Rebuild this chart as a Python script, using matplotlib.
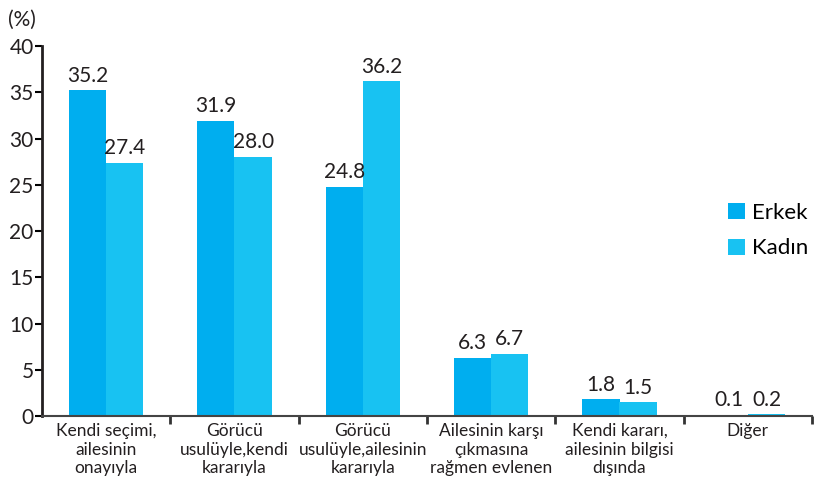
import matplotlib.pyplot as plt
import numpy as np

plt.rcParams['font.family'] = ['Lato', 'DejaVu Sans']

categories = ["Kendi seçimi,\nailesinin\nonayıyla",
              "Görücü\nusulüyle,kendi\nkararıyla",
              "Görücü\nusulüyle,ailesinin\nkararıyla",
              "Ailesinin karşı\nçıkmasına\nrağmen evlenen",
              "Kendi kararı,\nailesinin bilgisi\ndışında",
              "Diğer"]
erkek = [35.2, 31.9, 24.8, 6.3, 1.8, 0.1]
kadin = [27.4, 28.0, 36.2, 6.7, 1.5, 0.2]
yticks = [0, 5, 10, 15, 20, 25, 30, 35, 40]

c_erkek = '#00AEEF'
c_kadin = '#18C2F2'
txt = '#231f20'

fig = plt.figure(figsize=(8.14, 4.78), dpi=100)
ax = fig.add_axes([42/814, 1-416/478, (812-42)/814, (416-46)/478])

x = np.arange(len(categories))
w = 0.29
b1 = ax.bar(x - w/2, erkek, w, color=c_erkek, label='Erkek')
b2 = ax.bar(x + w/2, kadin, w, color=c_kadin, label='Kadın')

for bars, vals in ((b1, erkek), (b2, kadin)):
    for r, v in zip(bars, vals):
        ax.text(r.get_x() + r.get_width()/2, v + 0.5, f"{v:.1f}",
                ha='center', va='bottom', fontsize=15, color=txt)

ax.set_xlim(-0.5, len(categories) - 0.5)
ax.set_ylim(0, 40)
ax.set_yticks(yticks)
ax.set_yticklabels([str(t) for t in yticks], fontsize=15, color=txt)
ax.tick_params(axis='y', direction='out', length=5, width=1.5, pad=1)

ax.set_xticks(x)
ax.set_xticklabels(categories, fontsize=12.5, color=txt, linespacing=1.2)
ax.tick_params(axis='x', length=0, pad=5)
ax.set_xticks(np.arange(len(categories)) + 0.5, minor=True)
ax.tick_params(axis='x', which='minor', direction='out', length=6, width=2, color='#333333')

for s in ('top', 'right'):
    ax.spines[s].set_visible(False)
ax.spines['left'].set_linewidth(2)
ax.spines['left'].set_color(txt)
ax.spines['bottom'].set_linewidth(1.5)
ax.spines['bottom'].set_color('#444444')

fig.text(8/814, 1-20/478, "(%)", fontsize=15, color=txt, va='center')

leg = ax.legend(loc='upper left', bbox_to_anchor=(0.865, 0.63), frameon=False,
                fontsize=16, handlelength=0.75, handleheight=0.75,
                handletextpad=0.35, labelspacing=0.7)

fig.savefig("out.png", dpi=100)
plt.close(fig)
